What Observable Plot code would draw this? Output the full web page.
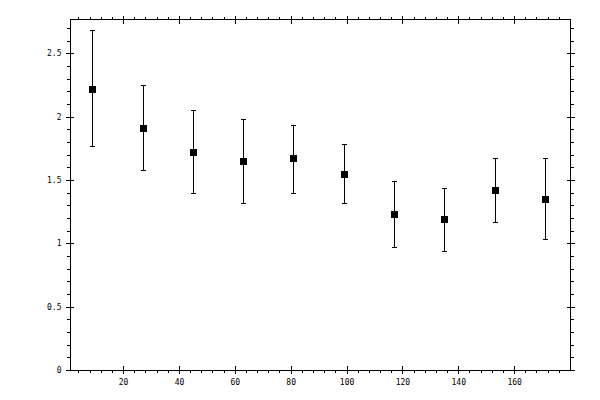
<!DOCTYPE html>
<html>
<head>
<meta charset="utf-8">
<script src="https://cdn.jsdelivr.net/npm/d3@7"></script>
<script src="https://cdn.jsdelivr.net/npm/@observablehq/plot@0.6"></script>
<style>
  html, body { margin: 0; padding: 0; background: #fff; }
  #chart svg { display: block; }
  #chart svg path, #chart svg line, #chart svg rect { shape-rendering: crispEdges; }
</style>
</head>
<body>
<div id="chart"></div>
<script>
// Data
const xs   = [9, 27, 45, 63, 81, 99, 117, 135, 153, 171];
const ys   = [2.22, 1.91, 1.72, 1.65, 1.67, 1.55, 1.23, 1.19, 1.42, 1.35];
const lows = [1.77, 1.58, 1.40, 1.32, 1.40, 1.32, 0.97, 0.94, 1.17, 1.03];
const highs= [2.68, 2.25, 2.05, 1.98, 1.93, 1.78, 1.49, 1.44, 1.67, 1.67];

// Ticks
const xMajor = [20, 40, 60, 80, 100, 120, 140, 160];
const xLabels = ["20", "40", "60", "80", "100", "120", "140", "160"];
const yMajor = [0, 0.5, 1, 1.5, 2, 2.5];
const yLabels = ["0", "0.5", "1", "1.5", "2", "2.5"];
const xMinor = d3.range(4, 180, 4);
const yMinor = d3.range(0, 27.7, 1).map(v => v / 10);

const data = xs.map((x, i) => ({x, y: ys[i], lo: lows[i], hi: highs[i]}));

const none = () => "";
const capSymbol = {
  draw(context) {
    context.moveTo(-2.5, 0);
    context.lineTo(2.5, 0);
  }
};

const chart = Plot.plot({
  width: 600,
  height: 400,
  marginLeft: 70,
  marginRight: 30,
  marginTop: 19,
  marginBottom: 30,
  style: {fontFamily: "DejaVu Sans Mono", fontSize: "8px", color: "black", background: "white"},
  x: {domain: [1, 180], axis: null},
  y: {domain: [0, 2.77], axis: null},
  marks: [
    Plot.frame({stroke: "black", strokeWidth: 1}),
    // left
    Plot.axisY({anchor: "left", ticks: yMajor, tickSize: 8, dx: 4, tickFormat: none, label: null}),
    Plot.axisY({anchor: "left", ticks: yMinor, tickSize: 3, tickFormat: none, label: null}),
    Plot.axisY({anchor: "left", ticks: yMajor, tickSize: 0, tickPadding: 9, tickFormat: d => yLabels[yMajor.indexOf(d)], label: null, fill: "black"}),
    // right
    Plot.axisY({anchor: "right", ticks: yMajor, tickSize: 8, dx: -4, tickFormat: none, label: null}),
    Plot.axisY({anchor: "right", ticks: yMinor, tickSize: 3, tickFormat: none, label: null}),
    // bottom
    Plot.axisX({anchor: "bottom", ticks: xMajor, tickSize: 8, dy: -4, tickFormat: none, label: null}),
    Plot.axisX({anchor: "bottom", ticks: xMinor, tickSize: 3, tickFormat: none, label: null}),
    Plot.axisX({anchor: "bottom", ticks: xMajor, tickSize: 0, tickPadding: 9, tickFormat: d => xLabels[xMajor.indexOf(d)], label: null, fill: "black"}),
    // top
    Plot.axisX({anchor: "top", ticks: xMajor, tickSize: 8, dy: 4, tickFormat: none, label: null}),
    Plot.axisX({anchor: "top", ticks: xMinor, tickSize: 3, tickFormat: none, label: null}),
    // error bars
    Plot.ruleX(data, {x: "x", y1: "lo", y2: "hi", stroke: "black", strokeWidth: 1}),
    Plot.dot(data, {x: "x", y: "lo", symbol: capSymbol, r: 3, stroke: "black", fill: "none", strokeWidth: 1}),
    Plot.dot(data, {x: "x", y: "hi", symbol: capSymbol, r: 3, stroke: "black", fill: "none", strokeWidth: 1}),
    // points
    Plot.dot(data, {x: "x", y: "y", symbol: "square", r: 3.95, fill: "black", stroke: "none"})
  ]
});
document.getElementById("chart").appendChild(chart);
</script>
</body>
</html>
